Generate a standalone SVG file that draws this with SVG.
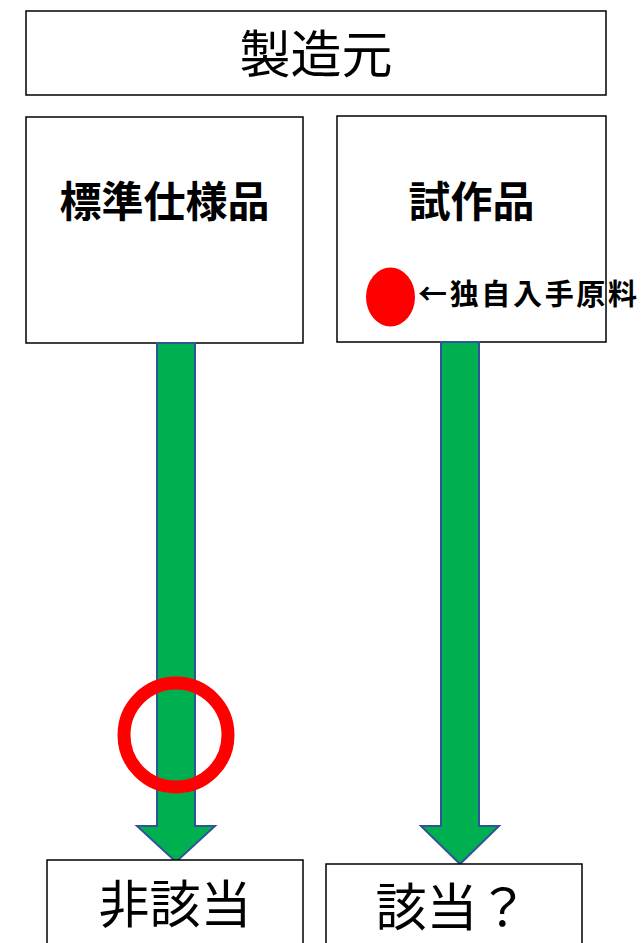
<svg xmlns="http://www.w3.org/2000/svg" width="641" height="943" viewBox="0 0 641 943">
<style>
.box{fill:#fff;stroke:#000;stroke-width:1.5}
.t{font-family:"Noto Sans CJK JP","Noto Sans",sans-serif;fill:#000;text-anchor:middle}
.b{font-weight:bold}
.arrow{fill:#00B050;stroke:#2F5597;stroke-width:2;stroke-linejoin:miter}
</style>
<rect width="641" height="943" fill="#fff"/>
<g id="maker">
<rect class="box" x="26" y="11" width="580" height="84"/>
<text class="t" x="316" y="73" font-size="51">製造元</text>
</g>
<g id="standard">
<rect class="box" x="26" y="117" width="277" height="226"/>
<text class="t b" x="164.5" y="217" font-size="42">標準仕様品</text>
</g>
<g id="prototype">
<rect class="box" x="337" y="116" width="269" height="226"/>
<text class="t b" x="471.5" y="217" font-size="42">試作品</text>
<ellipse cx="390.5" cy="297" rx="24.5" ry="29.5" fill="#FF0000"/>
<text class="t b" x="418" y="305" font-size="29" style="text-anchor:start" textLength="219" lengthAdjust="spacing">←独自入手原料</text>
</g>
<g id="connectors">
<path class="arrow" d="M157,343 L195,343 L195,826 L215,826 L176,862 L137,826 L157,826 Z"/>
<path class="arrow" d="M441,342 L479,342 L479,826 L499,826 L460,864 L421,826 L441,826 Z"/>
</g>
<g id="ok-mark">
<circle cx="176" cy="735" r="52" fill="none" stroke="#FF0000" stroke-width="13"/>
</g>
<g id="not-applicable">
<rect class="box" x="47" y="860" width="256" height="100"/>
<text class="t" x="175" y="923" font-size="51">非該当</text>
</g>
<g id="applicable">
<rect class="box" x="326" y="864" width="256" height="100"/>
<text class="t" x="452" y="926" font-size="51">該当？</text>
</g>
</svg>
